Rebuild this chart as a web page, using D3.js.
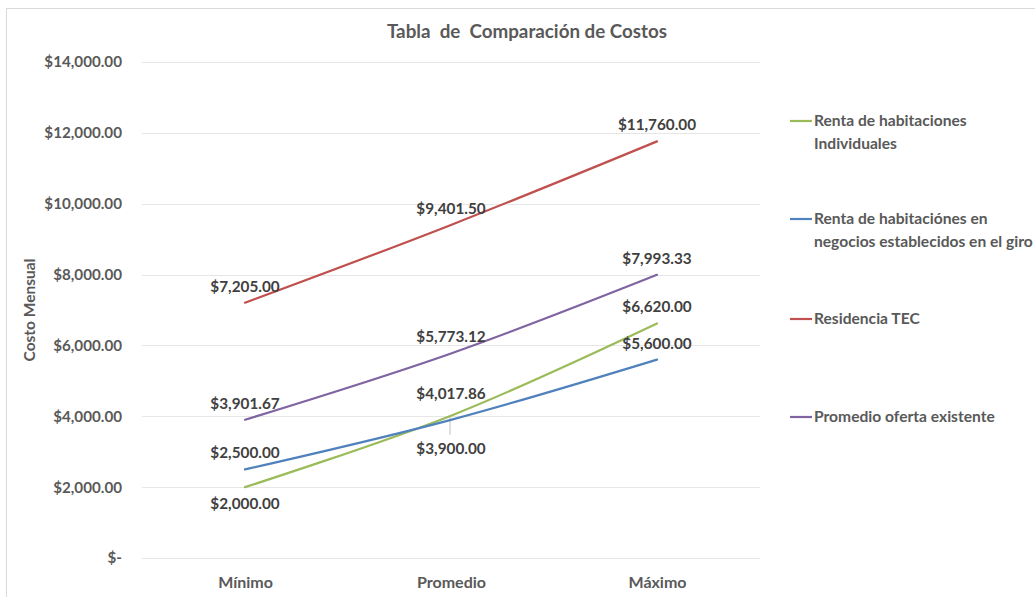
<!DOCTYPE html>
<html>
<head>
<meta charset="utf-8">
<script src="https://cdn.jsdelivr.net/npm/d3@7"></script>
<style>
  body { margin: 0; background: #fff; }
  svg { display: block; font-family: Lato, "Noto Sans", sans-serif; }
</style>
</head>
<body>
<svg id="chart" width="1035" height="597"></svg>
<script>
// Cost comparison data
const categories = ["Mínimo", "Promedio", "Máximo"];
const seriesNames = [
  "Renta de habitaciones Individuales",
  "Renta de habitaciónes en negocios establecidos en el giro",
  "Residencia TEC",
  "Promedio oferta existente"
];
const individuales = [2000.00, 4017.86, 6620.00];
const negocios = [2500.00, 3900.00, 5600.00];
const residenciaTec = [7205.00, 9401.50, 11760.00];
const promedioOferta = [3901.67, 5773.12, 7993.33];
const yTicks = [0, 2000, 4000, 6000, 8000, 10000, 12000, 14000];

const legendLines = [
  ["Renta de habitaciones", "Individuales"],
  ["Renta de habitaciónes en", "negocios establecidos en el giro"],
  ["Residencia TEC"],
  ["Promedio oferta existente"]
];
const colors = ["#9BBB59", "#4F81BD", "#C0504D", "#8064A2"];
// label offset (px from the point to the text baseline) per series and category
const labelOffset = [
  [22, -17, -11],
  [-11, 34, -11],
  [-11, -11, -11],
  [-11, -11, -11]
];

const series = [individuales, negocios, residenciaTec, promedioOferta].map((v, i) => ({
  name: seriesNames[i], values: v, color: colors[i], offset: labelOffset[i]
}));

const svg = d3.select("#chart");
const textColor = "#595959";

// chart frame
svg.append("rect")
  .attr("x", 6.5).attr("y", 8.5).attr("width", 1100).attr("height", 700)
  .attr("fill", "none").attr("stroke", "#D9D9D9");

const x = d3.scalePoint().domain(categories).range([142, 760]).padding(0.5);
const y = d3.scaleLinear().domain([0, 14000]).range([558, 62]);

// gridlines
svg.append("g")
  .selectAll("line")
  .data(yTicks)
  .join("line")
  .attr("x1", 142).attr("x2", 760)
  .attr("y1", d => Math.round(y(d)) + 0.5).attr("y2", d => Math.round(y(d)) + 0.5)
  .attr("stroke", "#E6E6E6").attr("stroke-width", 1);

// y axis
const fmt = d => d === 0 ? "$-" : "$" + d3.format(",.2f")(d);
const yAxis = svg.append("g")
  .attr("transform", "translate(122,0)")
  .call(d3.axisLeft(y).tickValues(yTicks).tickFormat(fmt).tickSize(0).tickPadding(0));
yAxis.select(".domain").remove();
yAxis.selectAll("text")
  .attr("fill", textColor).attr("font-size", 15.2).attr("font-weight", "bold")
  .attr("font-family", "Lato, sans-serif");

// x axis
const xAxis = svg.append("g")
  .attr("transform", "translate(0,558)")
  .call(d3.axisBottom(x).tickSize(0).tickPadding(19));
xAxis.select(".domain").remove();
xAxis.selectAll("text")
  .attr("fill", textColor).attr("font-size", 16).attr("font-weight", "bold")
  .attr("font-family", "Lato, sans-serif");

// title
svg.append("text")
  .attr("x", 527).attr("y", 38)
  .attr("text-anchor", "middle")
  .attr("fill", textColor).attr("font-size", 18.8).attr("font-weight", "bold")
  .attr("xml:space", "preserve")
  .text("Tabla  de  Comparación de Costos");

// y axis title
svg.append("text")
  .attr("transform", "translate(35,310) rotate(-90)")
  .attr("text-anchor", "middle")
  .attr("fill", textColor).attr("font-size", 15.5).attr("font-weight", "bold")
  .text("Costo Mensual");

// leader line for the middle labels
svg.append("line")
  .attr("x1", x("Promedio") - 1).attr("x2", x("Promedio") - 1)
  .attr("y1", y(individuales[1])).attr("y2", y(negocios[1]) + 15)
  .attr("stroke", "#BFBFBF").attr("stroke-width", 1);

// lines
const line = d3.line()
  .x((d, i) => x(categories[i]))
  .y(d => y(d))
  .curve(d3.curveCardinal.tension(0));

svg.append("g")
  .selectAll("path")
  .data(series)
  .join("path")
  .attr("d", d => line(d.values))
  .attr("fill", "none")
  .attr("stroke", d => d.color)
  .attr("stroke-width", 2.2)
  .attr("stroke-linecap", "round");

// data labels
const labels = [];
series.forEach(s => s.values.forEach((v, i) => labels.push({ v, cat: categories[i], off: s.offset[i] })));
svg.append("g")
  .selectAll("text")
  .data(labels)
  .join("text")
  .attr("x", d => x(d.cat))
  .attr("y", d => y(d.v) + d.off)
  .attr("text-anchor", "middle")
  .attr("fill", "#404040").attr("font-size", 15.3).attr("font-weight", "bold")
  .text(d => "$" + d3.format(",.2f")(d.v));

// legend
const legendY = [121, 219, 319, 417];
const legend = svg.append("g");
series.forEach((s, i) => {
  const g = legend.append("g").attr("transform", `translate(790,${legendY[i]})`);
  g.append("line").attr("x1", 0).attr("x2", 22).attr("y1", 0).attr("y2", 0)
    .attr("stroke", s.color).attr("stroke-width", 2.2);
  legendLines[i].forEach((t, j) => {
    g.append("text")
      .attr("x", 24).attr("y", 5 + j * 23)
      .attr("fill", textColor).attr("font-size", 15.6).attr("font-weight", "bold")
      .text(t);
  });
});
</script>
</body>
</html>
